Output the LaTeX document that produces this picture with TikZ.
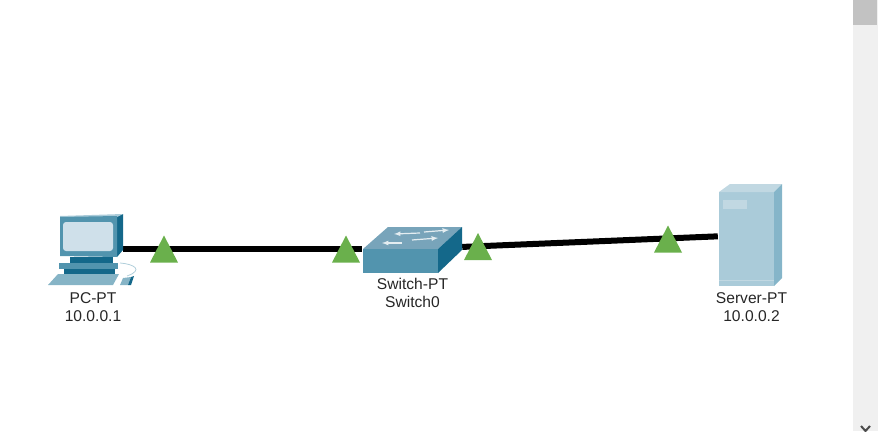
\documentclass[tikz,border=0pt]{standalone}
\usepackage{fontspec}
\setmainfont{Liberation Sans}
\usepackage{xcolor}
\definecolor{ColFront}{RGB}{82,148,174}
\definecolor{ColDark}{RGB}{20,104,138}
\definecolor{ColLight}{RGB}{207,224,234}
\definecolor{ColTop}{RGB}{120,164,186}
\definecolor{ColSrv}{RGB}{170,203,217}
\definecolor{ColSrvTop}{RGB}{193,216,226}
\definecolor{ColSrvSide}{RGB}{133,181,201}
\definecolor{ColLink}{RGB}{106,176,76}
\usetikzlibrary{shapes.geometric}
\tikzstyle{Device}=[rectangle,inner sep=0pt]
\tikzstyle{Wire}=[draw=black,line width=6pt]
\tikzstyle{Link}=[isosceles triangle,isosceles triangle apex angle=56,
isosceles triangle stretches,shape border rotate=90,fill=ColLink,inner sep=0pt,
minimum width=28pt,minimum height=27pt]
\tikzstyle{NodeST}=[align=center,font=\fontsize{15.6}{18}\selectfont,text=black!85,inner sep=0pt]

\begin{document}
\begin{tikzpicture}[x=1pt,y=-1pt]
        \useasboundingbox(0,0)rectangle(878,431);
        \node[Device,minimum width=74pt,minimum height=74pt](PC)at(86,249){};
        \node[Device,minimum width=100pt,minimum height=48pt](Switch0)at(412,249){};
        \node[Device,minimum width=64pt,minimum height=102pt](Server)at(750,235){};
        \draw[Wire](PC)--(Switch0);
        \draw[Wire](Switch0)--(Server);
        % PC
        \fill[ColDark](123,214)--(123,250)--(117,257)--(117,216)--cycle;
        \fill[ColSrv](60,216)--(123,214)--(117,217)--(60,218)--cycle;
        \fill[ColFront](60,217)--(117,216)--(117,257)--(60,256)--cycle;
        \fill[ColLight,rounded corners=3pt](63,222)rectangle(113,251);
        \fill[ColDark](70,257)rectangle(113,263);
        \fill[ColFront](59,263)rectangle(118,269);
        \fill[ColDark](64,269)rectangle(115,274);
        \fill[ColFront!70!white](48,285)--(58,274)--(119,274)--(113,285)--cycle;
        \fill[ColFront!70!white](120,285)--(123,278)--(131,277)--(128,285)--cycle;
        \fill[ColDark](128,285)--(131,277)--(134,276)--(131,285)--cycle;
        \draw[ColFront!45!white,line width=.8pt](120,263)..controls(134,264)and(144,270)..(127,276);
        % Switch
        \fill[ColTop](363,249)--(388,227)--(462,227)--(438,249)--cycle;
        \fill[ColFront](363,249)rectangle(438,273);
        \fill[ColDark](438,249)--(462,227)--(462,250)--(438,273)--cycle;
        \draw[white!80!ColTop,line width=1.2pt,-latex](420,233)--(394,234);
        \draw[white!80!ColTop,line width=1.2pt,-latex](424,232)--(449,230);
        \draw[white!80!ColTop,line width=1.2pt,-latex](402,243)--(382,243);
        \draw[white!80!ColTop,line width=1.2pt,-latex](412,240)--(438,238);
        % Server
        \fill[ColSrv](719,192)rectangle(774,286);
        \fill[ColSrvTop](719,192)--(730,184)--(782,184)--(774,192)--cycle;
        \fill[ColSrvSide](774,192)--(782,184)--(782,278)--(774,286)--cycle;
        \fill[ColSrvTop](723,200)rectangle(747,209);
        \draw[ColSrvTop](719,280)--(774,280);
        % link lights
        \node[Link](LinkA)at(164,254){};
        \node[Link](LinkB)at(346,254){};
        \node[Link](LinkC)at(478,251.5){};
        \node[Link](LinkD)at(668,244){};
        % labels
        \node[NodeST](PCLabel)at(93,307){PC-PT\\10.0.0.1};
        \node[NodeST](SwitchLabel)at(412.5,293){Switch-PT\\Switch0};
        \node[NodeST](ServerLabel)at(751.5,307){Server-PT\\10.0.0.2};
        % scroll bar
        \fill[black!6](853,0)rectangle(878,431);
        \fill[black!24](853,0)rectangle(877,25);
        \draw[black!70,line width=2pt](861,426)--(865.5,431)--(870,426);
    \end{tikzpicture}
\end{document}
